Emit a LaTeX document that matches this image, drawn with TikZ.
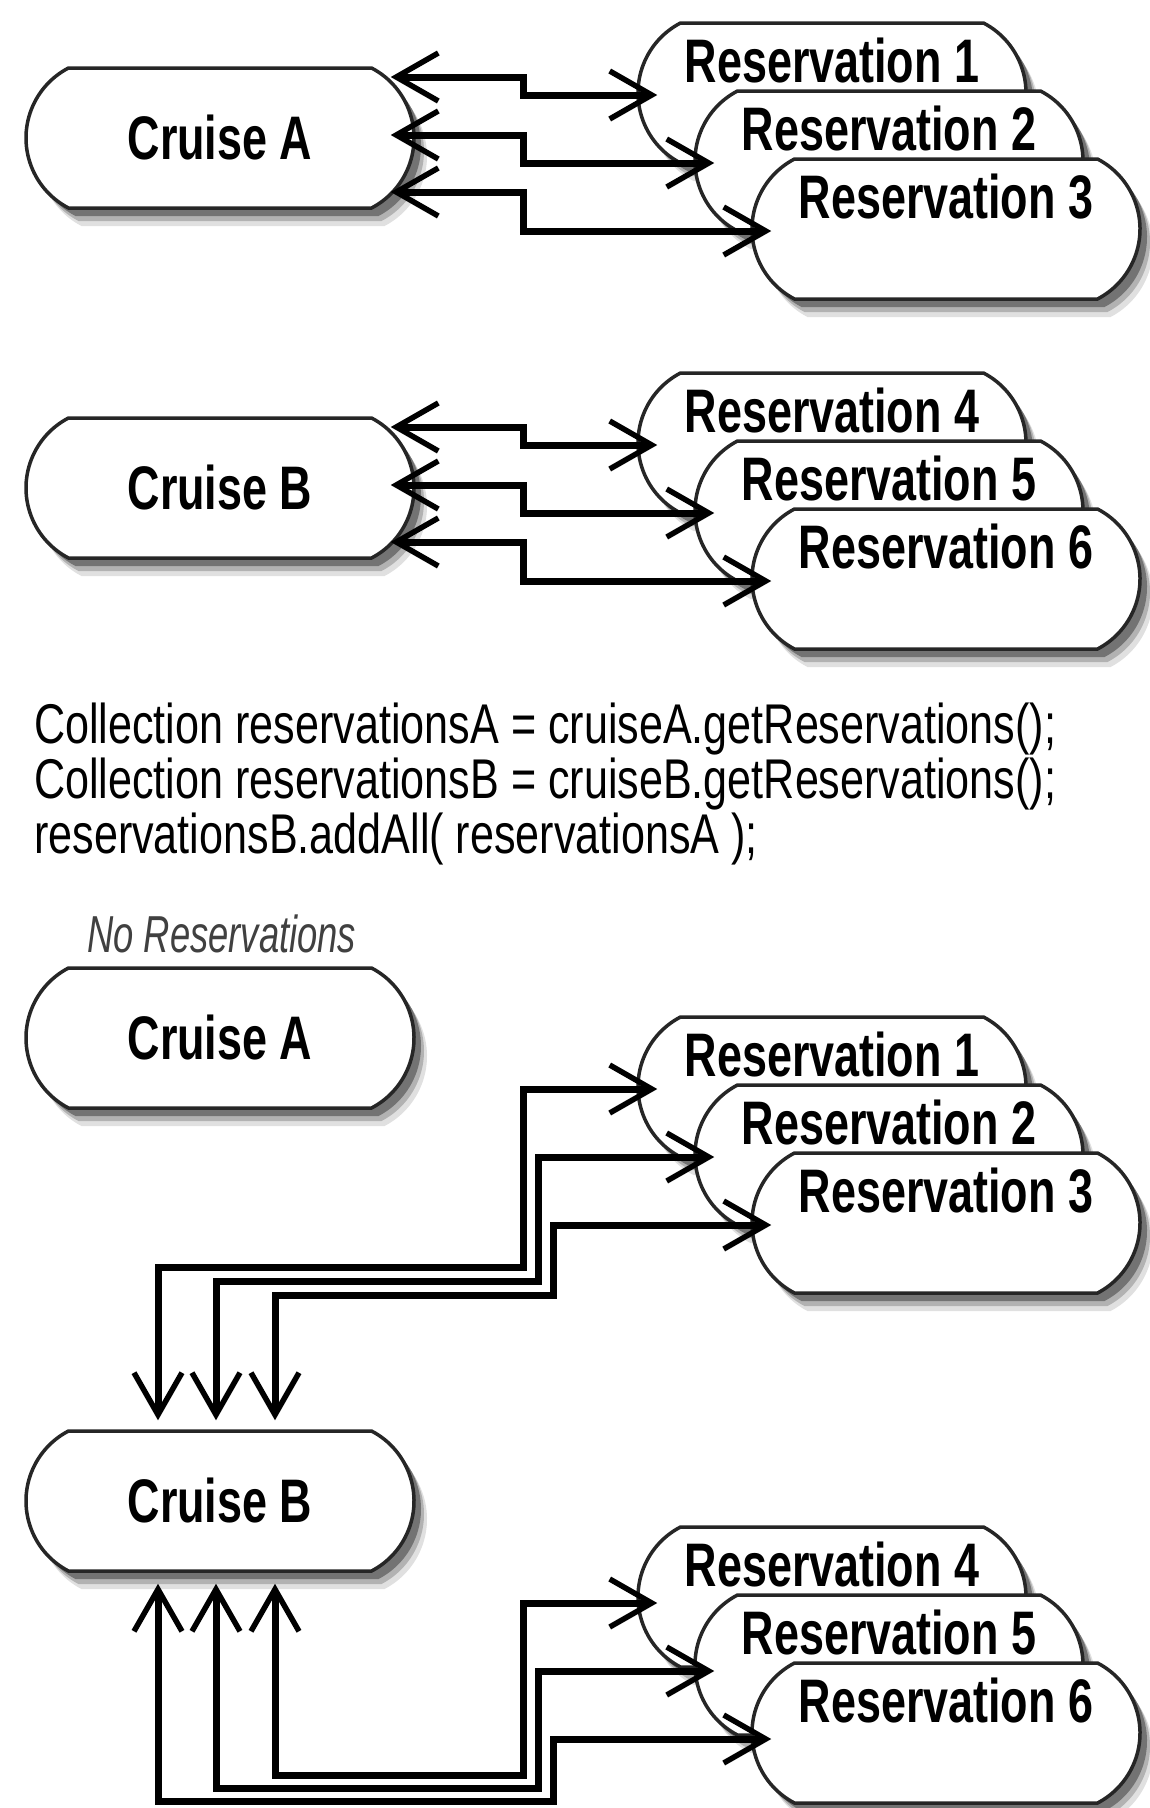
\documentclass[tikz,border=0pt]{standalone}
\usepackage{fontspec}
\usetikzlibrary{shapes.misc,shadows,arrows.meta,calc}
\newfontfamily\boxfont[FakeStretch=0.73]{Liberation Sans}
\newfontfamily\codefont[FakeStretch=0.77]{Liberation Sans}
\newfontfamily\notefont[FakeStretch=0.70]{Liberation Sans}
\newcommand\connector[1]{\draw[conn] #1;}
\tikzset{
  shapebox/.style={rounded rectangle, rounded rectangle arc length=125,
    draw=black!85, line width=3.5pt, fill=white,
    minimum width=388pt, minimum height=140pt, inner sep=0pt,
    drop shadow={shadow xshift=13pt, shadow yshift=-18pt, fill=black!12, opacity=1},
    drop shadow={shadow xshift=10pt, shadow yshift=-13pt, fill=black!30, opacity=1},
    drop shadow={shadow xshift=7pt, shadow yshift=-8pt, fill=black!55, opacity=1},
    font=\boxfont\bfseries\fontsize{61.5}{70}\selectfont},
  cruise/.style={shapebox, text height=43pt, text depth=0pt},
  resv/.style={shapebox, text height=44pt, text depth=66pt},
  conn/.style={draw=black, line width=7pt,
    {Straight Barb[length=42pt,width=48pt,line width=5.5pt]}-{Straight Barb[length=42pt,width=48pt,line width=5.5pt]}},
  codetext/.style={font=\codefont\fontsize{56}{55}\selectfont, inner sep=0pt, anchor=base west},
  notetext/.style={font=\notefont\itshape\fontsize{52}{55}\selectfont, inner sep=0pt, anchor=base west, text=black!75},
}
\begin{document}
\begin{tikzpicture}[x=1pt,y=-1pt]
\useasboundingbox (0,0) rectangle (1150,1808);
\fill[white] (0,0) rectangle (1150,1808);

% ---------- section 1 ----------
\node[cruise] (ca1) at (220,138) {Cruise A};
\node[resv] (r1) at (832,93) {Reservation 1};
\node[resv] (r2) at (889,161) {Reservation 2};
\node[resv] (r3) at (946,229) {Reservation 3};
\coordinate (bx1) at (523,0);
\coordinate (a1) at ($(ca1.east)+(-25,-61)$);
\coordinate (a2) at ($(ca1.east)+(-25,-3)$);
\coordinate (a3) at ($(ca1.east)+(-25,54)$);
\coordinate (b1) at ($(r1.west)+(21,2)$);
\coordinate (b2) at ($(r2.west)+(21,2)$);
\coordinate (b3) at ($(r3.west)+(21,2)$);
\connector{(a1) -- (a1 -| bx1) |- (b1)}
\connector{(a2) -- (a2 -| bx1) |- (b2)}
\connector{(a3) -- (a3 -| bx1) |- (b3)}

% ---------- section 2 ----------
\node[cruise] (cb1) at (220,488) {Cruise B};
\node[resv] (r4) at (832,443) {Reservation 4};
\node[resv] (r5) at (889,511) {Reservation 5};
\node[resv] (r6) at (946,579) {Reservation 6};
\coordinate (bx2) at (523,350);
\coordinate (a4) at ($(cb1.east)+(-25,-61)$);
\coordinate (a5) at ($(cb1.east)+(-25,-3)$);
\coordinate (a6) at ($(cb1.east)+(-25,54)$);
\coordinate (b4) at ($(r4.west)+(21,2)$);
\coordinate (b5) at ($(r5.west)+(21,2)$);
\coordinate (b6) at ($(r6.west)+(21,2)$);
\connector{(a4) -- (a4 -| bx2) |- (b4)}
\connector{(a5) -- (a5 -| bx2) |- (b5)}
\connector{(a6) -- (a6 -| bx2) |- (b6)}

% ---------- code ----------
\node[codetext] (code1) at (34,743) {Collection reservationsA = cruiseA.getReservations();};
\node[codetext] (code2) at (34,798) {Collection reservationsB = cruiseB.getReservations();};
\node[codetext] (code3) at (34,853) {reservationsB.addAll( reservationsA );};

% ---------- section 3 ----------
\node[notetext] (note) at (87,952) {No Reservations};
\node[cruise] (ca2) at (220,1038) {Cruise A};
\node[resv] (r1b) at (832,1087) {Reservation 1};
\node[resv] (r2b) at (889,1155) {Reservation 2};
\node[resv] (r3b) at (946,1223) {Reservation 3};
\node[cruise] (cb2) at (220,1501) {Cruise B};
\node[resv] (r4b) at (832,1597) {Reservation 4};
\node[resv] (r5b) at (889,1665) {Reservation 5};
\node[resv] (r6b) at (946,1733) {Reservation 6};

\coordinate (d1) at ($(cb2.north)+(-62,-9)$);
\coordinate (d2) at ($(cb2.north)+(-4,-9)$);
\coordinate (d3) at ($(cb2.north)+(55,-9)$);
\coordinate (k1) at (523,1267);
\coordinate (k2) at (538,1281);
\coordinate (k3) at (553,1295);
\coordinate (e1) at ($(r1b.west)+(21,2)$);
\coordinate (e2) at ($(r2b.west)+(21,2)$);
\coordinate (e3) at ($(r3b.west)+(21,2)$);
\connector{(d1) |- (k1) |- (e1)}
\connector{(d2) |- (k2) |- (e2)}
\connector{(d3) |- (k3) |- (e3)}

\coordinate (u1) at ($(cb2.south)+(55,11)$);
\coordinate (u2) at ($(cb2.south)+(-4,11)$);
\coordinate (u3) at ($(cb2.south)+(-62,11)$);
\coordinate (m1) at (523,1775);
\coordinate (m2) at (538,1788);
\coordinate (m3) at (553,1801);
\coordinate (f1) at ($(r4b.west)+(21,6)$);
\coordinate (f2) at ($(r5b.west)+(21,6)$);
\coordinate (f3) at ($(r6b.west)+(21,6)$);
\connector{(u1) |- (m1) |- (f1)}
\connector{(u2) |- (m2) |- (f2)}
\connector{(u3) |- (m3) |- (f3)}
\end{tikzpicture}
\end{document}
